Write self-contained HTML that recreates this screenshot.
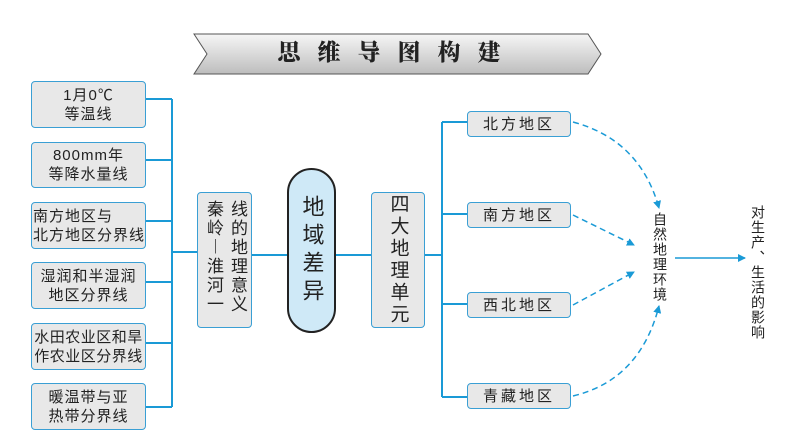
<!DOCTYPE html>
<html><head><meta charset="utf-8"><style>
body{margin:0;width:794px;height:446px;background:#fff;position:relative;overflow:hidden;font-family:"Liberation Sans","Noto Sans CJK SC",sans-serif;color:#222}
.b{position:absolute;background:#e8e8e8;border:1.5px solid #3a9fd4;border-radius:4px;box-sizing:border-box;display:flex;align-items:center;justify-content:center;text-align:center;font-size:15px;line-height:19px;letter-spacing:1px}
.v{writing-mode:vertical-rl;font-size:18px;letter-spacing:3px}
.t{position:absolute;writing-mode:vertical-rl;font-size:14px;line-height:16px;white-space:nowrap}
.col{position:absolute;writing-mode:vertical-rl;font-size:17px;line-height:20px;letter-spacing:2px;white-space:nowrap}
</style></head><body>
<svg width="794" height="446" style="position:absolute;left:0;top:0">
<defs>
<linearGradient id="g" x1="0" y1="0" x2="0" y2="1"><stop offset="0" stop-color="#f6f6f6"/><stop offset="1" stop-color="#bdbdbd"/></linearGradient>
<marker id="a" markerWidth="8" markerHeight="8" refX="7" refY="4" orient="auto" markerUnits="userSpaceOnUse"><path d="M0,0 L8,4 L0,8 Z" fill="#1a9ad6"/></marker>
</defs>
<path d="M194,34 L588,34 L601,54 L588,74 L194,74 L207,54 Z" fill="url(#g)" stroke="#555" stroke-width="1"/>
<g stroke="#1a9ad6" stroke-width="2" fill="none">
<path d="M146,99 H172 M146,160 H172 M146,221 H172 M146,282 H172 M146,343 H172 M146,407 H172 M172,99 V407 M172,252 H197"/>
<path d="M252,255 H287 M336,255 H371 M425,255 H442 M442,122 V397 M442,122 H467 M442,214 H467 M442,304 H467 M442,397 H467"/>
<path d="M675,258 H745" stroke-width="1.5" marker-end="url(#a)"/>
<g stroke-dasharray="6,4" stroke-width="1.5" marker-end="url(#a)">
<path d="M573,122 Q640,140 659,208"/>
<path d="M573,215 L634,245"/>
<path d="M573,305 L634,272"/>
<path d="M573,396 Q640,380 659,306"/>
</g>
</g>
</svg>
<div style="position:absolute;left:194px;top:39px;width:407px;text-align:center;font-family:'Liberation Serif','Noto Serif CJK SC',serif;font-weight:900;font-size:23px;letter-spacing:17px;line-height:28px">思维导图构建</div>
<div class="b" style="left:31px;top:81px;width:115px;height:47px">1月0℃<br>等温线</div>
<div class="b" style="left:31px;top:142px;width:115px;height:46px">800mm年<br>等降水量线</div>
<div class="b" style="left:31px;top:202px;width:115px;height:47px;justify-content:flex-start;text-align:left;padding-left:1px">南方地区与<br>北方地区分界线</div>
<div class="b" style="left:31px;top:262px;width:115px;height:47px">湿润和半湿润<br>地区分界线</div>
<div class="b" style="left:31px;top:323px;width:115px;height:47px;letter-spacing:0.5px">水田农业区和旱<br>作农业区分界线</div>
<div class="b" style="left:31px;top:383px;width:115px;height:47px">暖温带与亚<br>热带分界线</div>
<div class="b" style="left:197px;top:192px;width:55px;height:136px"></div>
<div class="col" style="left:203px;top:200px">秦岭︱淮河一</div>
<div class="col" style="left:227px;top:200px">线的地理意义</div>
<div class="b v" style="left:287px;top:168px;width:49px;height:165px;border-radius:25px;background:#cfe9f7;border:2px solid #222;font-size:22px;line-height:26px;letter-spacing:6px">地域差异</div>
<div class="b v" style="left:371px;top:192px;width:54px;height:136px;font-size:19px;letter-spacing:3px">四大地理单元</div>
<div class="b" style="left:467px;top:111px;width:104px;height:26px;letter-spacing:3px">北方地区</div>
<div class="b" style="left:467px;top:202px;width:104px;height:26px;letter-spacing:3px">南方地区</div>
<div class="b" style="left:467px;top:292px;width:104px;height:26px;letter-spacing:3px">西北地区</div>
<div class="b" style="left:467px;top:383px;width:104px;height:26px;letter-spacing:3px">青藏地区</div>
<div class="t" style="left:652px;top:212px;letter-spacing:1px">自然地理环境</div>
<div class="t" style="left:750px;top:205px;letter-spacing:1px">对生产、生活的影响</div>
</body></html>
